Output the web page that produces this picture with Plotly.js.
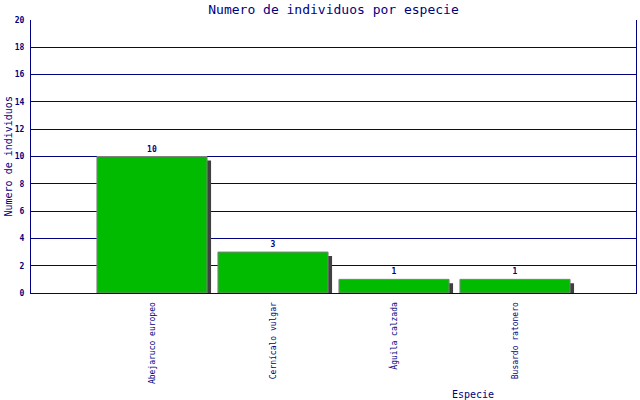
<!DOCTYPE html>
<html>
<head>
<meta charset="utf-8">
<script src="https://cdn.plot.ly/plotly-3.0.1.min.js"></script>
<style>html,body{margin:0;padding:0;background:#fff;}#chart{width:640px;height:400px;}</style>
</head>
<body>
<div id="chart"></div>
<script>
const categories = ["Abejaruco europeo", "Cernícalo vulgar", "Águila calzada", "Busardo ratonero"];
const values = [10, 3, 1, 1];
const yTicks = [0, 2, 4, 6, 8, 10, 12, 14, 16, 18, 20];

const navy = "#000080";
const mono = "DejaVu Sans Mono, Liberation Mono, monospace";
const plotW = 605, plotH = 273;
const xUnits = 5, yUnits = 20;
const barW = 0.91;
const shX = 4 * xUnits / plotW;
const shY = 4 * yUnits / plotH;

const shadow = {
  type: "bar", x: categories, y: values.map(v => v - shY),
  width: barW, offset: -barW / 2 + shX,
  marker: {color: "#404040", line: {width: 0}},
  hoverinfo: "skip", showlegend: false
};
const bars = {
  type: "bar", x: categories, y: values,
  width: barW, offset: -barW / 2,
  marker: {color: "#00BB00", line: {color: "#808080", width: 1}},
  text: values.map(String), textposition: "outside",
  textfont: {family: mono, size: 8, color: navy, weight: "bold"},
  cliponaxis: false, showlegend: false
};

const layout = {
  width: 640, height: 400,
  margin: {l: 31, r: 4, t: 20, b: 107, pad: 0},
  paper_bgcolor: "#fff", plot_bgcolor: "#fff",
  barmode: "overlay",
  title: {text: "Numero de individuos por especie", font: {family: mono, size: 13, color: navy},
          x: 0.5, xref: "paper", xanchor: "center", y: 1 - 9 / 400, yref: "container", yanchor: "middle"},
  xaxis: {type: "category", range: [-1, 4], showgrid: false, showline: true, linecolor: navy, linewidth: 1,
          mirror: false, ticks: "", tickangle: -90, ticklabelstandoff: 5,
          tickfont: {family: mono, size: 8, color: navy}, zeroline: false, fixedrange: true},
  yaxis: {range: [0, 20], tickvals: yTicks, ticktext: yTicks.map(String), showgrid: true, gridcolor: navy, gridwidth: 1,
          showline: true, linecolor: navy, linewidth: 1, mirror: true, ticks: "", ticklabelstandoff: 4,
          tickfont: {family: mono, size: 8, color: navy, weight: "bold"}, zeroline: false},
  annotations: [
    {text: "Especie", xref: "paper", yref: "paper", x: (473 - 31) / plotW, y: -(394 - 293) / plotH,
     xanchor: "center", yanchor: "middle", showarrow: false, font: {family: mono, size: 10, color: navy}},
    {text: "Numero de individuos", xref: "paper", yref: "paper", x: (8 - 31) / plotW, y: 0.5, textangle: -90,
     xanchor: "center", yanchor: "middle", showarrow: false, font: {family: mono, size: 10, color: navy}}
  ]
};

Plotly.newPlot("chart", [shadow, bars], layout, {displayModeBar: false, staticPlot: true});
</script>
</body>
</html>
